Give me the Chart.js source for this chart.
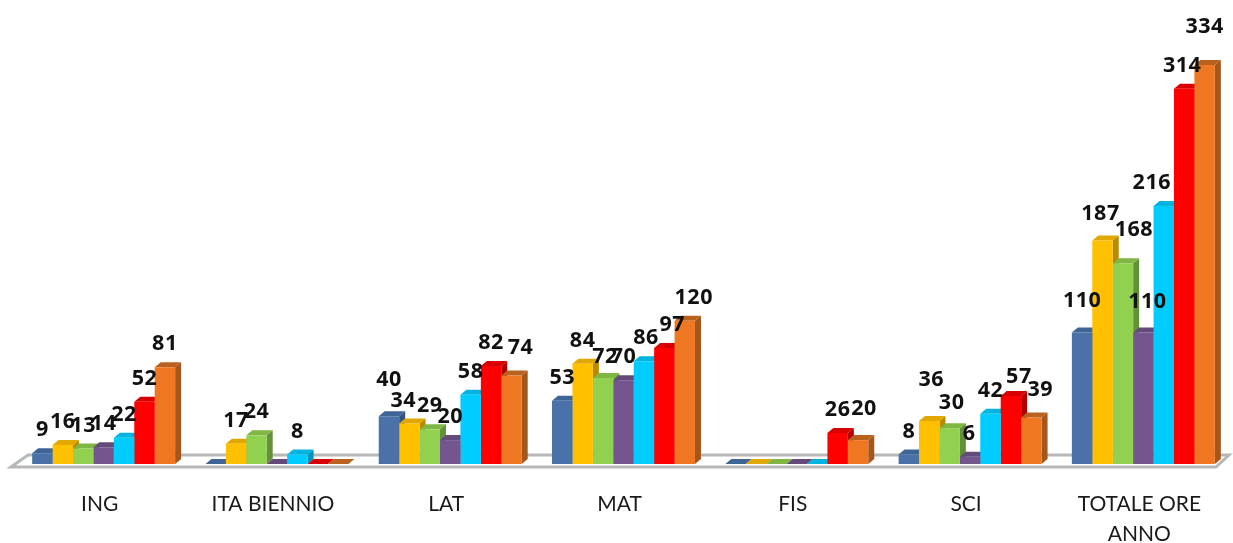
<!DOCTYPE html>
<html><head><meta charset="utf-8">
<style>html,body{margin:0;padding:0;background:#fff}canvas{display:block}</style>
<script src="https://cdn.jsdelivr.net/npm/chart.js@4/dist/chart.umd.min.js"></script>
</head><body><canvas id="c" width="1233" height="543"></canvas>
<script>
const categories = ["ING","ITA BIENNIO","LAT","MAT","FIS","SCI",["TOTALE ORE","ANNO"]];
const serie1 = [9,0,40,53,0,8,110];
const serie2 = [16,17,34,84,0,36,187];
const serie3 = [13,24,29,72,0,30,168];
const serie4 = [14,0,20,70,0,6,110];
const serie5 = [22,8,58,86,0,42,216];
const serie6 = [52,0,82,97,26,57,314];
const serie7 = [81,0,74,120,20,39,334];
const seriesValues = [serie1,serie2,serie3,serie4,serie5,serie6,serie7];
const frontColors = ["#4a72a8","#ffc000","#92d050","#74558f","#00ccff","#ff0000","#f07722"];
const topColors   = ["#3f6596","#e0a800","#7fb644","#634a7b","#00b4e0","#d80000","#b9621f"];
const sideColors  = ["#335380","#b98a00","#64903a","#4f3b63","#0092b8","#b00000","#a5561c"];
// label nudges [series, category, dx, dy] where the reference moved a label off its default place
const nudges = [[6,6,0,-15],[0,6,0,-9],[1,6,-2,-4],[2,6,11,-10],[3,6,4,-8],[4,6,-12,0],[5,6,-2,0],
  [6,3,9,0],[5,3,8,0],[4,3,2,0],[2,3,2,2],[6,2,9,-5],[0,2,0,-13],[1,2,-6,0],[6,4,6,-8],
  [1,5,2,-18],[2,5,2,-2],[3,5,-1,0],[5,5,8,4],[6,5,9,-5]];
const DX = 6, DY = 5;

const bars3d = {
  id:'bars3d',
  beforeDatasetsDraw(chart){
    const ctx = chart.ctx, a = chart.chartArea;
    const fy = a.bottom + 3, by = a.bottom - 9;
    ctx.save();
    ctx.beginPath();
    ctx.moveTo(11,fy); ctx.lineTo(28,by); ctx.lineTo(1229,by); ctx.lineTo(1216,fy); ctx.closePath();
    ctx.fillStyle = '#fff'; ctx.fill();
    ctx.strokeStyle = '#b8b8b8'; ctx.lineWidth = 3; ctx.stroke();
    chart.data.datasets.forEach((ds,di)=>{
      chart.getDatasetMeta(di).data.forEach(el=>{
        const p = el.getProps(['x','y','base','width'],true);
        const l = p.x-p.width/2, r = p.x+p.width/2, t = p.y, b = p.base;
        ctx.fillStyle = sideColors[di];
        ctx.beginPath(); ctx.moveTo(r,t); ctx.lineTo(r+DX,t-DY); ctx.lineTo(r+DX,b-DY); ctx.lineTo(r,b); ctx.closePath(); ctx.fill();
        ctx.fillStyle = topColors[di];
        ctx.beginPath(); ctx.moveTo(l,t); ctx.lineTo(l+DX,t-DY); ctx.lineTo(r+DX,t-DY); ctx.lineTo(r,t); ctx.closePath(); ctx.fill();
      });
    });
    ctx.restore();
  },
  afterDatasetsDraw(chart){
    const ctx = chart.ctx;
    ctx.save();
    ctx.font = 'bold 21.5px "Open Sans", sans-serif';
    ctx.fillStyle = '#111';
    ctx.textAlign = 'center'; ctx.textBaseline = 'middle';
    ctx.letterSpacing = '0.5px';
    chart.data.datasets.forEach((ds,di)=>{
      chart.getDatasetMeta(di).data.forEach((el,ci)=>{
        const v = ds.data[ci];
        if(!v) return;
        let dx = 0, dy = -23;
        nudges.forEach(n=>{ if(n[0]===di && n[1]===ci){dx+=n[2];dy+=n[3];} });
        ctx.fillText(String(v), el.x+dx, el.y+dy);
      });
    });
    ctx.restore();
  }
};

new Chart(document.getElementById('c'),{
  type:'bar',
  data:{labels:categories,datasets:seriesValues.map((d,i)=>({data:d,backgroundColor:frontColors[i],borderWidth:0,categoryPercentage:0.825,barPercentage:1}))},
  options:{
    responsive:false,animation:false,
    layout:{padding:{left:17,right:3,top:10,bottom:0}},
    plugins:{legend:{display:false},tooltip:{enabled:false},title:{display:false}},
    scales:{
      x:{grid:{display:false},border:{display:false},
         afterFit(s){s.height=79;},
         ticks:{maxRotation:0,autoSkip:false,padding:17,labelOffset:-4,color:'#1a1a1a',font:{family:'Lato, "Open Sans", sans-serif',size:21,lineHeight:1.45}}},
      y:{display:false,min:0,max:380}
    }
  },
  plugins:[bars3d]
});
</script></body></html>
